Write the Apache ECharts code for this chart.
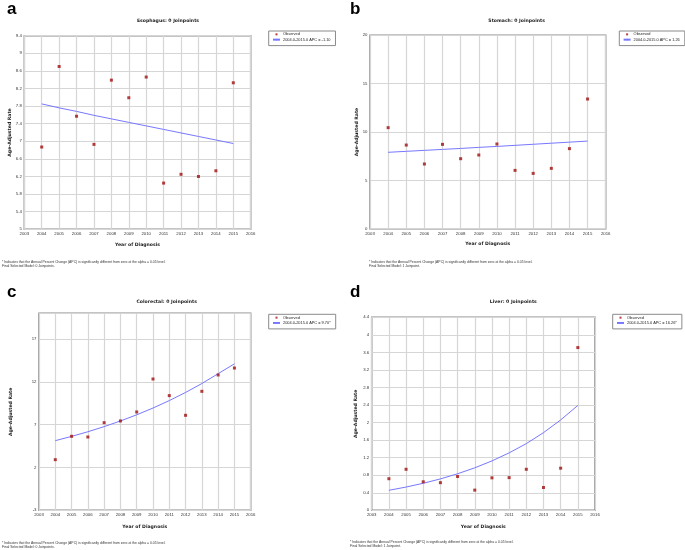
<!DOCTYPE html>
<html><head><meta charset="utf-8">
<script src="https://cdn.jsdelivr.net/npm/echarts@6/dist/echarts.min.js"></script>
<style>html,body{margin:0;padding:0;background:#fff}#c{width:685px;height:550px}</style>
</head><body><div id="c"></div>
<script>
// ---------------- data ----------------
const years = [2004, 2005, 2006, 2007, 2008, 2009, 2010, 2011, 2012, 2013, 2014, 2015];

const esophagusObs = [6.87, 8.70, 7.57, 6.93, 8.39, 7.99, 8.46, 6.05, 6.25, 6.20, 6.33, 8.33];
const esophagusFit = [7.85, 7.76, 7.68, 7.59, 7.51, 7.43, 7.35, 7.27, 7.19, 7.11, 7.03, 6.95];

const stomachObs = [10.45, 8.65, 6.69, 8.72, 7.24, 7.62, 8.76, 6.03, 5.72, 6.24, 8.28, 13.41];
const stomachFit = [7.90, 8.00, 8.10, 8.20, 8.30, 8.41, 8.51, 8.62, 8.73, 8.84, 8.95, 9.06];

const colorectalObs = [2.91, 5.64, 5.56, 7.23, 7.43, 8.48, 12.33, 10.39, 8.09, 10.89, 12.80, 13.61];
const colorectalFit = [5.13, 5.63, 6.17, 6.77, 7.43, 8.15, 8.94, 9.81, 10.76, 11.80, 12.95, 14.10];

const liverObs = [0.72, 0.935, 0.65, 0.63, 0.77, 0.46, 0.74, 0.745, 0.935, 0.52, 0.96, 3.71];
const liverFit = [0.456, 0.530, 0.616, 0.716, 0.833, 0.968, 1.126, 1.309, 1.52, 1.77, 2.06, 2.39];

const panelLetters = ['a', 'b', 'c', 'd'];
const panelTitles = ['Esophagus: 0 Joinpoints', 'Stomach: 0 Joinpoints', 'Colorectal: 0 Joinpoints', 'Liver: 0 Joinpoints'];
const fitNames = ['2004.0-2015.0 APC = -1.10', '2004.0-2015.0 APC = 1.26', '2004.0-2015.0 APC = 9.70*', '2004.0-2015.0 APC = 16.26*'];
const modelNotes = ['Final Selected Model: 0 Joinpoints.', 'Final Selected Model: 1 Joinpoint.', 'Final Selected Model: 0 Joinpoints.', 'Final Selected Model: 1 Joinpoint.'];
const footNote = '* Indicates that the Annual Percent Change (APC) is significantly different from zero at the alpha = 0.05 level.';
const xRange = [2003, 2016, 1];
const yRanges = [[5, 9.4, 0.4], [0, 20, 5], [-3, 20, 5], [0, 4.4, 0.4]];
const observedSets = [esophagusObs, stomachObs, colorectalObs, liverObs];
const fitSets = [esophagusFit, stomachFit, colorectalFit, liverFit];
const xName = 'Year of Diagnosis';
const yName = 'Age-Adjusted Rate';

// ---------------- layout ----------------
const layout = [
  {grid:[24.3, 35.7, 226.4, 193.6], letter:[7, 1], title:[168, 20.7], legend:[268.7, 31], foot:[2, 261.7], yGap:11, xGap:13},
  {grid:[370, 35.3, 235.7, 193.4], letter:[350, 1], title:[516.7, 20.7], legend:[619.3, 31], foot:[369, 261.7], yGap:8, xGap:13},
  {grid:[39, 313.3, 211.7, 197], letter:[7, 284.3], title:[166.7, 301.7], legend:[268.7, 314.3], foot:[2, 542.7], yGap:26, xGap:14},
  {grid:[371.7, 317.3, 223.3, 193], letter:[350, 284.3], title:[513.3, 301.7], legend:[612.7, 314.3], foot:[350, 542.3], yGap:13.7, xGap:14}
];

const fmt = v => String(parseFloat(Number(v).toFixed(2)));
const boldFont = 'DejaVu Sans';
const plainFont = 'Liberation Sans';

const grid = [], xAxis = [], yAxis = [], series = [], legend = [], graphic = [];
layout.forEach((L, i) => {
  grid.push({left:L.grid[0], top:L.grid[1], width:L.grid[2], height:L.grid[3],
    show:true, borderColor:'#8a8a8a', borderWidth:1.5, backgroundColor:'rgba(0,0,0,0)'});
  xAxis.push({type:'value', gridIndex:i, min:xRange[0], max:xRange[1], interval:xRange[2],
    name:xName, nameLocation:'middle', nameGap:L.xGap,
    nameTextStyle:{fontFamily:boldFont, fontWeight:'bold', fontSize:4.6, color:'#222'},
    axisLine:{show:false}, axisTick:{show:false},
    axisLabel:{formatter:v => String(v), fontSize:4.3, color:'#333', fontFamily:plainFont, margin:2.8},
    splitLine:{show:true, lineStyle:{color:'#d6d6d6', width:1.2}}});
  const yr = yRanges[i];
  yAxis.push({type:'value', gridIndex:i, min:yr[0], max:yr[1], interval:yr[2],
    name:yName, nameLocation:'middle', nameGap:L.yGap,
    nameTextStyle:{fontFamily:boldFont, fontWeight:'bold', fontSize:4.6, color:'#222'},
    axisLine:{show:false}, axisTick:{show:false},
    axisLabel:{formatter:fmt, fontSize:4.3, color:'#333', fontFamily:plainFont, margin:2.5, showMaxLabel: i === 2 ? false : true},
    splitLine:{show:true, lineStyle:{color:'#d6d6d6', width:1.2}}});
  series.push({type:'line', name:fitNames[i], xAxisIndex:i, yAxisIndex:i,
    data: years.map((y, k) => [y, fitSets[i][k]]),
    symbol:'none', showSymbol:false, smooth:false,
    lineStyle:{color:'#7878ff', width:1}, itemStyle:{color:'#7878ff'}, z:2, silent:true});
  series.push({type:'scatter', name:'Observed', xAxisIndex:i, yAxisIndex:i,
    data: years.map((y, k) => [y, observedSets[i][k]]),
    symbol:'rect', symbolSize:3, itemStyle:{color:'#a00f0f'}, z:3, silent:true});
  legend.push({orient:'vertical', left:L.legend[0], top:L.legend[1],
    data:[{name:'Observed', icon:'path://M0,0h2v2h-2z'}, {name:fitNames[i]}],
    itemWidth:7, itemHeight:2, itemGap:0,
    padding:[0.7, 5, 3.3, 3.3], borderColor:'#8a8a8a', borderWidth:1,
    textStyle:{fontSize:3.9, lineHeight:5.3, fontFamily:plainFont, color:'#222', padding:[0, 0, 0, -2]},
    selectedMode:false});
  graphic.push({type:'text', left:L.letter[0], top:L.letter[1],
    style:{text:panelLetters[i], font:'bold 17px "Liberation Sans", Arial', fill:'#000'}});
  graphic.push({type:'text', x:L.title[0], y:L.title[1],
    style:{text:panelTitles[i], font:'bold 4.6px "DejaVu Sans"', fill:'#222', align:'center', verticalAlign:'middle'}});
  graphic.push({type:'text', x:L.foot[0], y:L.foot[1],
    style:{text:footNote, font:'3.4px "Liberation Sans"', fill:'#333', align:'left', verticalAlign:'middle'}});
  graphic.push({type:'text', x:L.foot[0], y:L.foot[1] + 4,
    style:{text:modelNotes[i], font:'3.4px "Liberation Sans"', fill:'#333', align:'left', verticalAlign:'middle'}});
});

const chart = echarts.init(document.getElementById('c'), null, {renderer:'canvas'});
chart.setOption({backgroundColor:'#fff', animation:false, grid, xAxis, yAxis, series, legend, graphic});
</script>
</body></html>
